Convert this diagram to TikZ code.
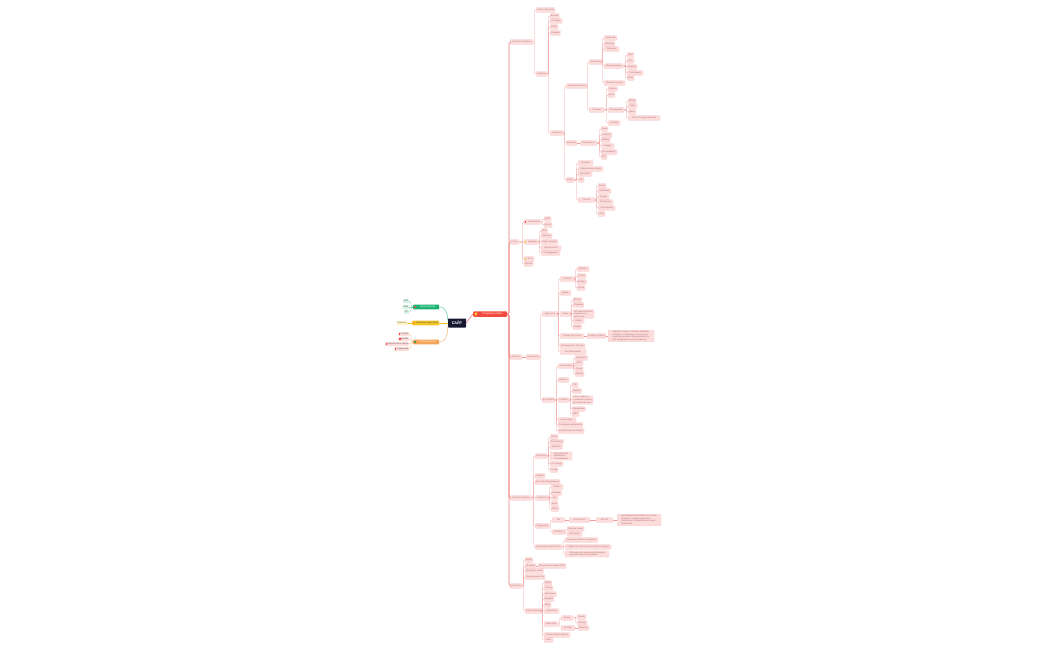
\documentclass[tikz,border=0pt]{standalone}
\usepackage{fontspec}
\setmainfont{Liberation Sans}
\usepackage{xcolor}
\usepackage{tikz}

\definecolor{rootred}{HTML}{F24A40}
\definecolor{pinkfill}{HTML}{FDDCDC}
\definecolor{pinkdraw}{HTML}{F6C0C0}
\definecolor{pinkline}{HTML}{F29C9C}
\definecolor{pinktext}{HTML}{B27272}
\definecolor{trunkred}{HTML}{EE7B7B}
\definecolor{navy}{HTML}{141833}
\definecolor{mint}{HTML}{1AB373}
\definecolor{mintlight}{HTML}{D5F3E3}
\definecolor{sun}{HTML}{F6C623}
\definecolor{sunlight}{HTML}{FFF3C4}
\definecolor{peach}{HTML}{F4A457}

\newcommand\mapfont{\fontsize{2.2}{2.6}\selectfont}

\begin{document}
\begin{tikzpicture}[x=1pt, y=-1pt,
  item/.style={draw=pinkdraw, fill=pinkfill, rounded corners=0.8pt, line width=0.15pt, anchor=west, font=\mapfont, text=pinktext, inner xsep=0.8pt, inner ysep=0.3pt, minimum height=4.6pt},
  note/.style={item, align=left, inner ysep=0.8pt},
  conn/.style={draw=pinkline, line width=0.35pt, rounded corners=1pt},
  trunk/.style={draw=trunkred, line width=0.55pt, rounded corners=1.5pt},
  topic/.style={rounded corners=0.8pt, anchor=west, minimum height=4.8pt, inner sep=0.5pt, font=\fontsize{2.4}{2.8}\selectfont},
  sub/.style={topic, anchor=east, minimum height=4pt, font=\mapfont, text=black!60}
]
\fill[white] (0,0) rectangle (1050,650);
\useasboundingbox (0,0) rectangle (1050,650);

% centre and main topic
\node[fill=navy, text=white, rounded corners=0.6pt, minimum width=18pt, minimum height=9pt, inner sep=0pt, font=\fontsize{3.8}{4}\selectfont\bfseries] (site) at (457,323) {САЙТ};
\node[topic, fill=rootred, text=white, minimum width=34pt, minimum height=5.5pt, font=\fontsize{2.6}{3}\selectfont] (root) at (473,314) {\hspace*{4pt}Структура сайта};
\fill[sun, rounded corners=0.4pt] ([xshift=1.6pt, yshift=-1.3pt]root.west) rectangle ++(2.6pt,2.6pt);
\draw[trunk] (site.east) -- (root.west);

% left topics
\node[topic, fill=mint, text=white, minimum width=26pt] (goal) at (413,307) {\hspace*{3pt}Цели проекта};
\node[topic, fill=sun, text=black!65, minimum width=27pt] (aud) at (412,323) {\hspace*{3pt}Целевая аудитория};
\node[topic, fill=peach, text=white, minimum width=26pt] (stage) at (413,342) {\hspace*{3pt}Этапы работы};
\fill[red!70] ([xshift=2pt]goal.west) circle (1.1pt);
\fill[orange!80] ([xshift=2pt]aud.west) circle (1.1pt);
\fill[mint!80!black] ([xshift=2pt]stage.west) circle (1.1pt);
\draw[mint!70, line width=0.5pt] ([yshift=2.5pt]site.west) .. controls +(0,-6) and +(7,0) .. (goal.east);
\draw[sun, line width=0.5pt] (site.west) -- (aud.east);
\draw[peach!80, line width=0.5pt] ([yshift=-2.5pt]site.west) .. controls +(0,8) and +(7,0) .. (stage.east);

\node[sub, fill=mintlight, minimum width=5pt] (g1) at (409,301) {SEO};
\node[sub, fill=mintlight, minimum width=5pt] (g2) at (409,307) {SMM};
\node[sub, fill=mintlight, minimum width=5pt] (g3) at (409,312) {PR};
\node[sub, fill=sunlight, minimum width=10pt] (a1) at (407,323) {Клиенты};
\node[sub, fill=pinkfill, minimum width=10pt] (s1) at (409,334) {\hspace*{2pt}Анализ};
\node[sub, fill=pinkfill, minimum width=10pt] (s2) at (409,339) {\hspace*{2pt}Дизайн};
\node[sub, fill=pinkfill, minimum width=22pt] (s3) at (409,344) {\hspace*{2pt}Разработка и запуск};
\node[sub, fill=pinkfill, minimum width=13pt] (s4) at (409,349) {\hspace*{2pt}Поддержка};
\foreach \c in {g1,g2,g3} \draw[mint!60, line width=0.3pt] (goal.west) to[out=180, in=0] (\c.east);
\draw[sun, line width=0.3pt] (aud.west) -- (a1.east);
\foreach \c in {s1,s2,s3,s4} {
  \draw[peach!70, line width=0.3pt] (stage.west) to[out=180, in=0] (\c.east);
  \fill[red!75] ([xshift=0.7pt, yshift=-0.8pt]\c.west) rectangle ++(1.6pt,1.6pt);
}

% level 1
\node[item, minimum width=23pt] (m1) at (510,42) {Главная страница};
\node[item, minimum width=9pt] (m2) at (510,242) {О нас};
\node[item, minimum width=12pt] (m3) at (510,357) {Каталог};
\node[item, minimum width=22pt] (m4) at (510,498) {Услуги и сервисы};
\node[item, minimum width=12pt] (m5) at (510,586) {Контакты};
\foreach \c in {m1,m2,m3,m4,m5} \draw[trunk] (root.east) -| ([xshift=-1pt]\c.west) -- (\c.west);

% main page
\node[item, minimum width=19pt] (m1a) at (536,10) {Лента новостей};
\node[item, minimum width=11pt] (m1b) at (536,74) {Разделы};
\node[item, minimum width=9pt] (b1) at (550,16) {Баннер};
\node[item, minimum width=12pt] (b2) at (550,21) {Слайдер};
\node[item, minimum width=8pt] (b3) at (550,27) {Поиск};
\node[item, minimum width=10.5pt] (b4) at (550,33) {Новинки};
\node[item, minimum width=14pt] (vit) at (550,133) {Витрина};
\node[item, minimum width=21pt] (card) at (566,86) {Карточка товара};
\node[item, minimum width=11pt] (filt) at (566,143) {Фильтры};
\node[item, minimum width=8pt] (order) at (566,180) {Заказ};
\node[item, minimum width=13pt] (desc) at (589,62) {Описание};
\node[item, minimum width=15pt] (rev) at (589,110) {Отзывы};
\node[item, minimum width=13pt] (d1) at (604,38) {Свойства};
\node[item, minimum width=10.5pt] (d2) at (604,44) {Размеры};
\node[item, minimum width=15pt] (d3) at (604,49) {Упаковка};
\node[item, minimum width=19pt] (rec) at (604,66) {Рекомендации};
\node[item, minimum width=21pt] (d5) at (604,83) {Похожие товары};
\node[item, minimum width=7pt] (r1) at (627,55) {Цвет};
\node[item, minimum width=7pt] (r2) at (627,61) {Вес};
\node[item, minimum width=10pt] (r3) at (627,67) {Модель};
\node[item, minimum width=16pt] (r4) at (627,73) {Поставщик};
\node[item, minimum width=7pt] (r5) at (627,78) {Цена};
\node[item, minimum width=9pt] (v1) at (608,89) {Оценка};
\node[item, minimum width=7pt] (v2) at (608,95) {Фото};
\node[item, minimum width=16pt] (com) at (608,110) {Обсуждение};
\node[item, minimum width=12pt] (v4) at (608,123) {Рейтинг};
\node[item, minimum width=8pt] (c1) at (628,101) {Автор};
\node[item, minimum width=9pt] (c2) at (628,106) {Текст};
\node[item, minimum width=8pt] (c3) at (628,112) {Дата};
\node[item, minimum width=32pt] (c4) at (628,118) {Ответ от представителя};
\node[item, minimum width=17pt] (sort) at (580,143) {Сортировка};
\node[item, minimum width=7pt] (so1) at (601,129) {Цена};
\node[item, minimum width=11pt] (so2) at (601,135) {Новизна};
\node[item, minimum width=9pt] (so3) at (601,140) {Размер};
\node[item, minimum width=13pt] (so4) at (601,146) {Скидки};
\node[item, minimum width=16pt] (so5) at (601,152) {По алфавиту};
\node[item, minimum width=6pt] (so6) at (601,157) {Тип};
\node[item, minimum width=15pt] (o1) at (578,163) {Корзина};
\node[item, minimum width=25pt] (o2) at (578,169) {Оформление заказа};
\node[item, minimum width=14pt] (o3) at (578,174) {Доставка};
\node[item, minimum width=6pt] (o4) at (578,180) {Чек};
\node[item, minimum width=17pt] (pay) at (578,200) {Оплата};
\node[item, minimum width=8pt] (p1) at (598,186) {Карта};
\node[item, minimum width=13pt] (p2) at (598,191) {Наличные};
\node[item, minimum width=11pt] (p3) at (598,197) {Кредит};
\node[item, minimum width=15pt] (p4) at (598,202) {Рассрочка};
\node[item, minimum width=17pt] (p5) at (598,208) {Сертификат};
\node[item, minimum width=7pt] (p6) at (598,214) {СБП};
\foreach \c in {m1a,m1b} \draw[conn] (m1.east) -| ([xshift=-1.5pt]\c.west) -- (\c.west);
\foreach \c in {b1,b2,b3,b4,vit} \draw[conn] (m1b.east) -| ([xshift=-1.5pt]\c.west) -- (\c.west);
\foreach \c in {card,filt,order} \draw[conn] (vit.east) -| ([xshift=-1.5pt]\c.west) -- (\c.west);
\foreach \c in {desc,rev} \draw[conn] (card.east) -| ([xshift=-1.5pt]\c.west) -- (\c.west);
\foreach \c in {d1,d2,d3,rec,d5} \draw[conn] (desc.east) -| ([xshift=-1.5pt]\c.west) -- (\c.west);
\foreach \c in {r1,r2,r3,r4,r5} \draw[conn] (rec.east) -| ([xshift=-1.5pt]\c.west) -- (\c.west);
\foreach \c in {v1,v2,com,v4} \draw[conn] (rev.east) -| ([xshift=-1.5pt]\c.west) -- (\c.west);
\foreach \c in {c1,c2,c3,c4} \draw[conn] (com.east) -| ([xshift=-1.5pt]\c.west) -- (\c.west);
\draw[conn] (filt.east) -- (sort.west);
\foreach \c in {so1,so2,so3,so4,so5,so6} \draw[conn] (sort.east) -| ([xshift=-1.5pt]\c.west) -- (\c.west);
\foreach \c in {o1,o2,o3,o4,pay} \draw[conn] (order.east) -| ([xshift=-1.5pt]\c.west) -- (\c.west);
\foreach \c in {p1,p2,p3,p4,p5,p6} \draw[conn] (pay.east) -| ([xshift=-1.5pt]\c.west) -- (\c.west);

% about
\node[item, minimum width=17pt] (comp) at (524,222) {\hspace*{2.5pt}О компании};
\node[item, minimum width=14pt] (team) at (524,242) {\hspace*{2.5pt}Команда};
\node[item, minimum width=10pt] (blog) at (524,259) {\hspace*{2.5pt}Блог};
\node[item, minimum width=9pt] (press) at (524,264) {Пресса};
\fill[red!75] ([xshift=0.8pt, yshift=-0.8pt]comp.west) rectangle ++(1.6pt,1.6pt);
\fill[sun] ([xshift=0.8pt, yshift=-0.8pt]team.west) rectangle ++(1.6pt,1.6pt);
\fill[sun] ([xshift=0.8pt, yshift=-0.8pt]blog.west) rectangle ++(1.6pt,1.6pt);
\node[item, minimum width=7pt] (cm1) at (544,219) {Цели};
\node[item, minimum width=8pt] (cm2) at (544,225) {Факты};
\node[item, minimum width=6pt] (t1) at (541,231) {CEO};
\node[item, minimum width=11pt] (t2) at (541,236) {Юристы};
\node[item, minimum width=17pt] (t3) at (541,242) {Отдел продаж};
\node[item, minimum width=20pt] (t4) at (541,248) {Маркетологи};
\node[item, minimum width=19pt] (t5) at (541,253) {Техподдержка};
\foreach \c in {comp,team,blog,press} \draw[conn] (m2.east) -| ([xshift=-1.5pt]\c.west) -- (\c.west);
\foreach \c in {cm1,cm2} \draw[conn] (comp.east) -| ([xshift=-1.5pt]\c.west) -- (\c.west);
\foreach \c in {t1,t2,t3,t4,t5} \draw[conn] (team.east) -| ([xshift=-1.5pt]\c.west) -- (\c.west);

% catalogue
\node[item, minimum width=13.5pt] (cat) at (526,357) {Категории};
\node[item, minimum width=16pt] (home) at (542,314) {Для дома};
\node[item, minimum width=13pt] (office) at (542,400) {Для офиса};
\node[item, minimum width=15pt] (furn) at (560,279) {Мебель};
\node[item, minimum width=11pt] (decor) at (560,293) {Декор};
\node[item, minimum width=11pt] (textl) at (560,314) {Ткани};
\node[item, minimum width=24pt] (kitch) at (560,336) {Товары для кухни};
\node[item, minimum width=25pt] (light) at (560,346) {Освещение и люстры};
\node[item, minimum width=26pt] (chem) at (560,352) {Бытовая химия};
\node[item, minimum width=12pt] (f1) at (577,269) {Диваны};
\node[item, minimum width=9pt] (f2) at (577,276) {Столы};
\node[item, minimum width=8pt] (f3) at (577,282) {Шкафы};
\node[item, minimum width=8pt] (f4) at (577,288) {Полки};
\node[item, minimum width=8pt] (x1) at (573,300) {Шторы};
\node[item, minimum width=10.5pt] (x2) at (573,305) {Подушки};
\node[note, minimum width=21pt] (x3) at (573,314) {Постельное бельё,\\покрывала и\\наволочки};
\node[item, minimum width=11pt] (x4) at (573,321) {Ковры};
\node[item, minimum width=8pt] (x5) at (573,327) {Пледы};
\node[item, minimum width=19pt] (dish) at (587,336) {Посуда и утварь};
\node[note, minimum width=46pt] (dnote) at (608,336) {Тарелки, чашки, столовые приборы,\\кастрюли, сковороды, ножи, доски\\и другие кухонные принадлежности\\для ежедневного использования};
\node[item, minimum width=15.5pt] (otech) at (558,366) {Оргтехника};
\node[item, minimum width=11pt] (ofurn) at (558,380) {Мебель};
\node[item, minimum width=11pt] (hw) at (558,400) {Техника};
\node[item, minimum width=18pt] (stat) at (558,420) {Канцтовары};
\node[item, minimum width=25pt] (cons) at (558,425) {Расходные материалы};
\node[item, minimum width=26pt] (hous) at (558,431) {Хозяйственные товары};
\node[item, minimum width=12.5pt] (ot1) at (575,358) {Принтеры};
\node[item, minimum width=8pt] (ot2) at (575,363) {МФУ};
\node[item, minimum width=8pt] (ot3) at (575,369) {Тонер};
\node[item, minimum width=9pt] (ot4) at (575,374) {Бумага};
\node[item, minimum width=6pt] (hw1) at (572,385) {ПК};
\node[item, minimum width=9pt] (hw2) at (572,391) {Экраны};
\node[note, minimum width=21pt] (hw3) at (572,400) {Сети, серверы\\и комплектующие\\для рабочих мест};
\node[item, minimum width=13.5pt] (hw4) at (572,409) {Периферия};
\node[item, minimum width=7pt] (hw5) at (572,414) {ИБП};
\draw[conn] (m3.east) -- (cat.west);
\foreach \c in {home,office} \draw[conn] (cat.east) -| ([xshift=-1.5pt]\c.west) -- (\c.west);
\foreach \c in {furn,decor,textl,kitch,light,chem} \draw[conn] (home.east) -| ([xshift=-1.5pt]\c.west) -- (\c.west);
\foreach \c in {f1,f2,f3,f4} \draw[conn] (furn.east) -| ([xshift=-1.5pt]\c.west) -- (\c.west);
\foreach \c in {x1,x2,x3,x4,x5} \draw[conn] (textl.east) -| ([xshift=-1.5pt]\c.west) -- (\c.west);
\draw[conn] (kitch.east) -- (dish.west);
\draw[conn] (dish.east) -- (dnote.west);
\foreach \c in {otech,ofurn,hw,stat,cons,hous} \draw[conn] (office.east) -| ([xshift=-1.5pt]\c.west) -- (\c.west);
\foreach \c in {ot1,ot2,ot3,ot4} \draw[conn] (otech.east) -| ([xshift=-1.5pt]\c.west) -- (\c.west);
\foreach \c in {hw1,hw2,hw3,hw4,hw5} \draw[conn] (hw.east) -| ([xshift=-1.5pt]\c.west) -- (\c.west);

% services
\node[item, minimum width=12pt] (deliv) at (535,456) {Доставка};
\node[item, minimum width=10pt] (asm) at (535,476) {Сборка};
\node[item, minimum width=25pt] (mount) at (535,482) {Монтаж оборудования};
\node[item, minimum width=14pt] (warr) at (535,498) {Гарантия};
\node[item, minimum width=14pt] (supp) at (535,526) {Поддержка};
\node[item, minimum width=27pt] (loyal) at (535,547) {Программа лояльности};
\node[item, minimum width=8pt] (dl1) at (550,437) {Почта};
\node[item, minimum width=13.5pt] (dl2) at (550,442) {Самовывоз};
\node[item, minimum width=12.5pt] (dl3) at (550,447) {Экспресс};
\node[note, minimum width=22pt] (dl4) at (550,456) {Транспортная\\компания и\\отслеживание};
\node[item, minimum width=13pt] (dl5) at (550,464) {По городу};
\node[item, minimum width=8pt] (dl6) at (550,470) {Склад};
\node[item, minimum width=12pt] (w1) at (551,487) {Обмен};
\node[item, minimum width=10.5pt] (w2) at (551,493) {Возврат};
\node[item, minimum width=7pt] (w3) at (551,498) {Акт};
\node[item, minimum width=7pt] (w4) at (551,504) {Срок};
\node[item, minimum width=8pt] (w5) at (551,509) {Талон};
\node[item, minimum width=13pt] (chat) at (552,520) {Чат};
\node[item, minimum width=21pt] (oncons) at (569,520) {Консультант};
\node[item, minimum width=17pt] (bot) at (596,520) {Чат-бот};
\node[note, minimum width=44pt] (bnote) at (617,520) {Автоматические ответы на частые\\вопросы, передача диалога\\оператору и сохранение истории\\переписки};
\node[item, minimum width=13pt] (phone) at (552,532) {Телефон};
\node[item, minimum width=17pt] (ph1) at (567,529) {Горячая линия};
\node[item, minimum width=15pt] (ph2) at (567,534) {Call-центр};
\node[item, minimum width=33pt] (l1) at (565,540) {Бонусные баллы за покупки};
\node[item, minimum width=46pt] (l2) at (565,547) {Скидки постоянным клиентам и подарки};
\node[note, minimum width=44pt] (l3) at (565,554) {Специальные акции и распродажи\\для участников программы};
\foreach \c in {deliv,asm,mount,warr,supp,loyal} \draw[conn] (m4.east) -| ([xshift=-1.5pt]\c.west) -- (\c.west);
\foreach \c in {dl1,dl2,dl3,dl4,dl5,dl6} \draw[conn] (deliv.east) -| ([xshift=-1.5pt]\c.west) -- (\c.west);
\foreach \c in {w1,w2,w3,w4,w5} \draw[conn] (warr.east) -| ([xshift=-1.5pt]\c.west) -- (\c.west);
\foreach \c in {chat,phone} \draw[conn] (supp.east) -| ([xshift=-1.5pt]\c.west) -- (\c.west);
\draw[conn] (chat.east) -- (oncons.west);
\draw[conn] (oncons.east) -- (bot.west);
\draw[conn] (bot.east) -- (bnote.west);
\foreach \c in {ph1,ph2} \draw[conn] (phone.east) -| ([xshift=-1.5pt]\c.west) -- (\c.west);
\foreach \c in {l1,l2,l3} \draw[conn] (loyal.east) -| ([xshift=-1.5pt]\c.west) -- (\c.west);

% contacts
\node[item, minimum width=8pt] (ad) at (525,560) {Адрес};
\node[item, minimum width=11pt] (tel) at (525,566) {Телефон};
\node[item, minimum width=18.5pt] (mail) at (525,571) {Email для связи};
\node[item, minimum width=20pt] (soc) at (525,577) {Социальные сети};
\node[item, minimum width=17pt] (map) at (525,611) {Карта проезда};
\node[item, minimum width=28pt] (tel1) at (538,566) {Бесплатный номер 8-800};
\node[item, minimum width=7pt] (mp1) at (544,583) {Офис};
\node[item, minimum width=9pt] (mp2) at (544,588) {Склад};
\node[item, minimum width=12.5pt] (mp3) at (544,594) {Магазины};
\node[item, minimum width=9pt] (mp4) at (544,599) {Шоурум};
\node[item, minimum width=7pt] (mp5) at (544,605) {Вход};
\node[item, minimum width=15pt] (mp6) at (544,611) {Навигатор};
\node[item, minimum width=14pt] (trans) at (544,624) {Транспорт};
\node[item, minimum width=26pt] (mode) at (544,635) {Режим работы офиса};
\node[item, minimum width=9pt] (hours) at (544,640) {Часы};
\node[item, minimum width=12pt] (metro) at (561,618) {Метро};
\node[item, minimum width=14pt] (bus) at (561,628) {Автобус};
\node[item, minimum width=9pt] (met1) at (577,617) {Линия};
\node[item, minimum width=10pt] (met2) at (577,623) {Выход};
\node[item, minimum width=11pt] (bus1) at (578,628) {Маршрут};
\foreach \c in {ad,tel,mail,soc,map} \draw[conn] (m5.east) -| ([xshift=-1.5pt]\c.west) -- (\c.west);
\draw[conn] (tel.east) -- (tel1.west);
\foreach \c in {mp1,mp2,mp3,mp4,mp5,mp6,trans,mode,hours} \draw[conn] (map.east) -| ([xshift=-1.5pt]\c.west) -- (\c.west);
\foreach \c in {metro,bus} \draw[conn] (trans.east) -| ([xshift=-1.5pt]\c.west) -- (\c.west);
\foreach \c in {met1,met2} \draw[conn] (metro.east) -| ([xshift=-1.5pt]\c.west) -- (\c.west);
\draw[conn] (bus.east) -- (bus1.west);
\end{tikzpicture}
\end{document}
